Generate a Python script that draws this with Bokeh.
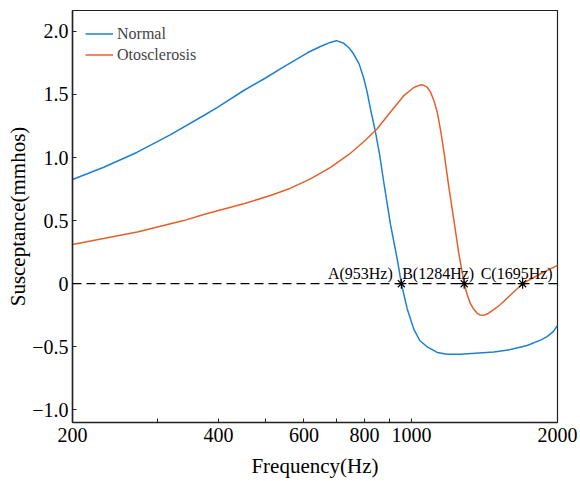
from bokeh.plotting import figure
from bokeh.models import FixedTicker, Legend, LegendItem, ColumnDataSource, Span
from bokeh.embed import file_html
from bokeh.resources import INLINE
from bokeh.core.properties import value

# ---- data ----
normal_freq = [200, 232, 272, 318, 373, 398, 451, 500, 546, 563, 610, 649, 680, 700,
               725, 743, 760, 780, 797, 810, 823, 843, 860, 877, 905, 935, 953, 980,
               1011, 1040, 1077, 1130, 1184, 1262, 1478, 1600, 1731, 1850, 1904, 1960,
               2000]
normal_b = [0.826, 0.923, 1.042, 1.180, 1.333, 1.398, 1.531, 1.63, 1.72, 1.75, 1.83,
            1.88, 1.912, 1.926, 1.905, 1.87, 1.82, 1.74, 1.63, 1.52, 1.386, 1.20, 1.016,
            0.80, 0.47, 0.19, 0.0, -0.2, -0.36, -0.45, -0.50, -0.545, -0.56, -0.56,
            -0.541, -0.522, -0.49, -0.445, -0.42, -0.38, -0.33]

oto_freq = [200, 272, 339, 373, 400, 451, 512, 563, 619, 681, 743, 797, 850, 905, 964,
            1011, 1044, 1060, 1077, 1094, 1112, 1130, 1150, 1166, 1194, 1223, 1252,
            1284, 1303, 1323, 1345, 1366, 1385, 1406, 1420, 1440, 1478, 1525, 1600,
            1695, 1845, 2000]
oto_b = [0.311, 0.409, 0.50, 0.549, 0.58, 0.633, 0.699, 0.757, 0.831, 0.922, 1.024,
         1.125, 1.228, 1.36, 1.49, 1.555, 1.576, 1.572, 1.557, 1.52, 1.451, 1.36, 1.2,
         1.05, 0.765, 0.501, 0.238, 0.0, -0.09, -0.158, -0.205, -0.235, -0.248, -0.251,
         -0.246, -0.236, -0.205, -0.165, -0.09, 0.0, 0.079, 0.145]

zero_freq = [953, 1284, 1695]
zero_b = [0, 0, 0]
zero_labels = ["A(953Hz)", "B(1284Hz)", "C(1695Hz)"]

x_ticks = [200, 300, 400, 500, 600, 700, 800, 900, 1000, 2000]
x_tick_labels = ["200", "", "400", "", "600", "", "800", "", "1000", "2000"]
y_ticks = [-1.0, -0.5, 0.0, 0.5, 1.0, 1.5, 2.0]
y_tick_labels = ["\u22121.0", "\u22120.5", "0", "0.5", "1.0", "1.5", "2.0"]

series_names = ["Normal", "Otosclerosis"]

# ---- styling ----
BLUE = "#1f7fd0"
ORANGE = "#e4612b"
FONT = "Liberation Serif"
label_x_offsets = [-41, -26, -6]

p = figure(width=580, height=481, x_axis_type="log", x_range=(200, 2000),
           y_range=(-1.1, 2.165), output_backend="svg", toolbar_location=None,
           min_border_left=72, min_border_right=23, min_border_top=10,
           min_border_bottom=59)

p.grid.visible = False
p.outline_line_color = "#222222"
p.outline_line_width = 1.2
p.background_fill_color = "white"
p.border_fill_color = "white"

zero_line = Span(location=0, dimension="width", line_color="black",
                 line_width=1.2, line_dash="9 5")
p.add_layout(zero_line)

r_norm = p.line(normal_freq, normal_b, line_color=BLUE, line_width=1.5,
                line_join="round")
r_oto = p.line(oto_freq, oto_b, line_color=ORANGE, line_width=1.5,
               line_join="round")

src = ColumnDataSource(dict(x=zero_freq, y=zero_b, t=zero_labels, xo=label_x_offsets))
p.scatter("x", "y", source=src, marker="asterisk", size=10, line_color="black",
          line_width=1.2)
p.text("x", "y", text="t", source=src, x_offset="xo", y_offset=-10,
       text_align="center", text_baseline="alphabetic",
       text_font=value(FONT), text_font_size="16px", text_color="black")

# axes
for ax in (p.xaxis[0], p.yaxis[0]):
    ax.major_tick_in = 4
    ax.major_tick_out = 0
    ax.minor_tick_in = 0
    ax.minor_tick_out = 0
    ax.axis_line_width = 1.5
    ax.axis_line_color = "#222222"
    ax.major_tick_line_color = "#222222"
    ax.major_label_text_font = FONT
    ax.major_label_text_font_size = "20px"
    ax.major_label_text_color = "black"
    ax.axis_label_text_font = FONT
    ax.axis_label_text_font_size = "21px"
    ax.axis_label_text_font_style = "normal"
    ax.axis_label_text_color = "black"

p.xaxis[0].ticker = FixedTicker(ticks=x_ticks, minor_ticks=[])
p.xaxis[0].major_label_overrides = {t: l for t, l in zip(x_ticks, x_tick_labels)}
p.xaxis[0].axis_label = "Frequency(Hz)"
p.xaxis[0].major_label_standoff = 5
p.xaxis[0].axis_label_standoff = 9

p.yaxis[0].ticker = FixedTicker(ticks=y_ticks, minor_ticks=[])
p.yaxis[0].major_label_overrides = {t: l for t, l in zip(y_ticks, y_tick_labels)}
p.yaxis[0].axis_label = "Susceptance(mmhos)"
p.yaxis[0].major_label_standoff = 4
p.yaxis[0].axis_label_standoff = -1

legend = Legend(items=[LegendItem(label=series_names[0], renderers=[r_norm]),
                       LegendItem(label=series_names[1], renderers=[r_oto])],
                location="top_left", margin=13, padding=8, spacing=0,
                glyph_width=28, glyph_height=21, label_height=21, label_standoff=4,
                label_text_font=FONT, label_text_font_size="16px",
                border_line_color=None, background_fill_alpha=0)
p.add_layout(legend)

open("out.html", "w").write(file_html(p, INLINE))
